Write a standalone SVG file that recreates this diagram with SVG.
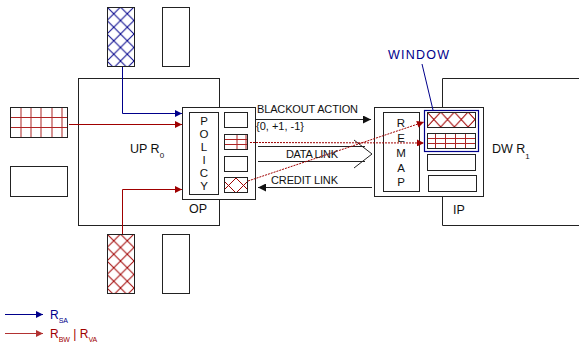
<svg xmlns="http://www.w3.org/2000/svg" width="579" height="348" viewBox="0 0 579 348">
<style>
.box{fill:#fff;stroke:#222;stroke-width:1}
.nofill{fill:none;stroke:#222;stroke-width:1}
.t{font-family:"Liberation Sans",Arial,sans-serif;fill:#111}
.blue{stroke:#00008b;fill:none;stroke-width:1}
.red{stroke:#a00000;fill:none;stroke-width:1}
.redg{stroke:#a00000;stroke-width:1;opacity:0.85}
.blk{stroke:#222;fill:none;stroke-width:1}
.dot{stroke:#a00000;fill:none;stroke-width:1;stroke-dasharray:2,1}
</style>
<defs>
<marker id="ab" viewBox="0 0 10 10" refX="10" refY="5" markerWidth="9" markerHeight="7" markerUnits="userSpaceOnUse" orient="auto"><path d="M0,0 L10,5 L0,10 z" fill="#00008b"/></marker>
<marker id="ar" viewBox="0 0 10 10" refX="10" refY="5" markerWidth="9" markerHeight="7" markerUnits="userSpaceOnUse" orient="auto"><path d="M0,0 L10,5 L0,10 z" fill="#a00000"/></marker>
<marker id="ak" viewBox="0 0 10 10" refX="10" refY="5" markerWidth="11" markerHeight="8" markerUnits="userSpaceOnUse" orient="auto"><path d="M0,0 L10,5 L0,10 z" fill="#111"/></marker>
<pattern id="hb" patternUnits="userSpaceOnUse" x="107" y="7" width="13.5" height="13.5"><path d="M0,0 L13.5,13.5 M13.5,0 L0,13.5" stroke="#00008b" stroke-width="1"/></pattern>
<pattern id="hr" patternUnits="userSpaceOnUse" x="107" y="234" width="13.5" height="13.5"><path d="M0,0 L13.5,13.5 M13.5,0 L0,13.5" stroke="#a00000" stroke-width="1"/></pattern>
<pattern id="hp" patternUnits="userSpaceOnUse" x="221" y="178" width="15" height="15"><path d="M0,0 L15,15 M15,0 L0,15" stroke="#a00000" stroke-width="1"/></pattern>
<pattern id="hw" patternUnits="userSpaceOnUse" x="427" y="112" width="13.7" height="15"><path d="M0,0 L13.7,15 M13.7,0 L0,15" stroke="#a00000" stroke-width="1"/></pattern>
</defs>

<g id="up">
<rect class="box" x="78.5" y="78.5" width="141" height="147"/>
<text class="t" x="130" y="153" font-size="12.5">UP R<tspan font-size="8" dy="5">0</tspan></text>
<text class="t" x="189" y="213" font-size="12.5">OP</text>
</g>
<g id="dw">
<path class="nofill" d="M580,78.5 H442.5 V225.5 H580"/>
<text class="t" x="492" y="153" font-size="12.5">DW R<tspan font-size="8" dy="6">1</tspan></text>
<text class="t" x="453" y="214" font-size="12.5">IP</text>
</g>

<g id="in-top-hatched"><rect x="107.5" y="7.5" width="27" height="59" fill="url(#hb)" stroke="#222"/></g>
<g id="in-top-empty"><rect class="box" x="162.5" y="7.5" width="27" height="59"/></g>
<g id="in-bottom-hatched"><rect x="107.5" y="234.5" width="27" height="59" fill="url(#hr)" stroke="#222"/></g>
<g id="in-bottom-empty"><rect class="box" x="162.5" y="234.5" width="27" height="59"/></g>
<g id="in-left-grid">
<rect class="box" x="10.5" y="107.5" width="57" height="30"/>
<path class="redg" d="M21,108 V137 M31,108 V137 M41,108 V137 M52,108 V137 M62,108 V137 M11,117.5 H67 M11,127.5 H67"/>
<rect class="nofill" x="10.5" y="107.5" width="57" height="30"/>
</g>
<g id="in-left-empty"><rect class="box" x="10.5" y="166.5" width="57" height="30"/></g>

<g id="policy">
<rect class="box" x="182.5" y="107.5" width="73" height="92"/>
<rect class="box" x="189.5" y="112.5" width="29" height="82"/>
<g class="t" font-size="11.5" text-anchor="middle">
<text x="204" y="125">P</text><text x="204" y="138">O</text><text x="204" y="151">L</text><text x="204" y="164">I</text><text x="204" y="177">C</text><text x="204" y="190">Y</text>
</g>
<rect class="box" x="224.5" y="112.5" width="23" height="15"/>
<rect class="box" x="224.5" y="134.5" width="23" height="15"/>
<path class="redg" d="M237,135 V149 M246,135 V149 M225,139.5 H247 M225,144.5 H247"/>
<rect class="nofill" x="224.5" y="134.5" width="23" height="15"/>
<rect class="box" x="224.5" y="156.5" width="23" height="15"/>
<rect x="224.5" y="177.5" width="23" height="15" fill="url(#hp)" stroke="#222"/>
</g>

<g id="remap">
<rect class="box" x="374.5" y="107.5" width="109" height="89"/>
<rect class="box" x="383.5" y="112.5" width="36" height="79"/>
<g class="t" font-size="11.5" text-anchor="middle">
<text x="401" y="127">R</text><text x="401" y="142">E</text><text x="401" y="157">M</text><text x="401" y="172">A</text><text x="401" y="186">P</text>
</g>
<rect x="427.5" y="112.5" width="48" height="15" fill="url(#hw)" stroke="#222"/>
<rect class="box" x="427.5" y="133.5" width="48" height="15"/>
<path class="redg" d="M435.5,134 V148 M445.5,134 V148 M455.5,134 V148 M465.5,134 V148 M428,138.5 H475 M428,143.5 H475"/>
<rect class="nofill" x="427.5" y="133.5" width="48" height="15"/>
<rect class="box" x="427.5" y="154.5" width="48" height="16"/>
<rect class="box" x="428.5" y="175.5" width="48" height="16"/>
<rect x="424.5" y="110.5" width="54" height="41" fill="none" stroke="#00008b" stroke-width="1.2"/>
</g>

<g id="window-label">
<text x="388" y="59" font-size="12.5" font-family="Liberation Sans,Arial,sans-serif" fill="#00008b" textLength="61">WINDOW</text>
<path class="blue" d="M422,64 L433,110"/>
</g>

<g id="connectors">
<path class="blue" d="M122.5,67 V113.5 H182" marker-end="url(#ab)"/>
<path class="red" d="M69,124.5 H182" marker-end="url(#ar)"/>
<path class="red" d="M122.5,234 V189.5 H182" marker-end="url(#ar)"/>
<path class="blk" d="M256,119.5 H371" marker-end="url(#ak)"/>
<path class="blk" d="M372,187.5 H258" marker-end="url(#ak)"/>
<path class="blk" d="M258,146.5 H365 M258,161.5 H365 M354,140 L372,154 L354,168"/>
<path class="dot" d="M250,142.5 L424,143" marker-end="url(#ar)"/>
<path class="dot" d="M248,181 L424,122" marker-end="url(#ar)"/>
<path d="M5,314.5 H43" stroke="#00008b" stroke-width="1" marker-end="url(#ab)"/>
<path d="M5,333.5 H43" stroke="#a00000" stroke-width="1" opacity="0.8" marker-end="url(#ar)"/>
</g>

<g id="labels">
<text class="t" x="257" y="113" font-size="11" textLength="101">BLACKOUT ACTION</text>
<text class="t" x="256" y="130" font-size="11">{0, +1, -1}</text>
<text class="t" x="286" y="158" font-size="11" textLength="52">DATA LINK</text>
<text class="t" x="271" y="184" font-size="11" textLength="67">CREDIT LINK</text>
</g>

<g id="legend" font-family="Liberation Sans,Arial,sans-serif">
<text x="50" y="319" font-size="12" fill="#00008b">R<tspan font-size="7" dy="4">SA</tspan></text>
<text x="50" y="338" font-size="12" fill="#a00000">R<tspan font-size="7" dy="4">BW</tspan><tspan dy="-4"> | R</tspan><tspan font-size="7" dy="4">VA</tspan></text>
</g>
</svg>
